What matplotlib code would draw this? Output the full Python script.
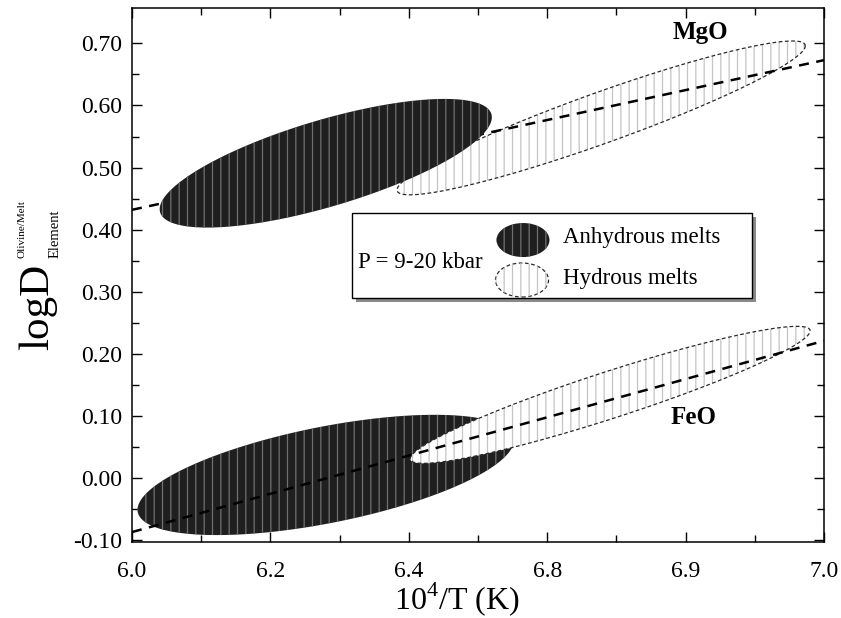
import numpy as np
import matplotlib
matplotlib.use("Agg")
import matplotlib.pyplot as plt
from matplotlib.patches import Ellipse, Rectangle

plt.rcParams['font.family'] = ['Liberation Serif', 'DejaVu Serif']
plt.rcParams['mathtext.fontset'] = 'custom'
plt.rcParams['mathtext.rm'] = 'Liberation Serif'
plt.rcParams['hatch.linewidth'] = 0.9

# axis ticks (labels copied as printed on the original)
x_ticks = [6.0, 6.2, 6.4, 6.6, 6.8, 7.0]
x_tick_labels = ['6.0', '6.2', '6.4', '6.8', '6.9', '7.0']
y_ticks = [-0.10, 0.00, 0.10, 0.20, 0.30, 0.40, 0.50, 0.60, 0.70]

# error regions: centre, right-most point and vertical half-thickness at centre
region_names = ['MgO anhydrous', 'MgO hydrous', 'FeO anhydrous', 'FeO hydrous']
region_hydrous = [False, True, False, True]
center_x = [6.280, 6.678, 6.280, 6.691]
center_y = [0.507, 0.580, 0.005, 0.134]
tip_x = [6.520, 6.973, 6.552, 6.980]
tip_y = [0.581, 0.696, 0.061, 0.237]
half_height = [0.0725, 0.0435, 0.079, 0.0395]

# fitted trends
line_x = [6.0, 7.0]
mgo_line_y = [0.432, 0.673]
feo_line_y = [-0.087, 0.221]

dark = '#1f1f1f'
dark_hatch = '#707070'
light_hatch = '#c4c4c4'

fig = plt.figure(figsize=(8.41, 6.18), dpi=100)
ax = fig.add_axes([132/841, 1 - 542/618, 692/841, 534/618])

# MgO: hydrous under anhydrous, FeO: anhydrous under hydrous
zorders = [4, 2, 2, 3]
t = np.linspace(0, 2*np.pi, 300)
for i in range(len(region_names)):
    ux = tip_x[i] - center_x[i]
    uy = tip_y[i] - center_y[i]
    xs = center_x[i] + ux*np.cos(t)
    ys = center_y[i] + uy*np.cos(t) + half_height[i]*np.sin(t)
    z = zorders[i]
    if region_hydrous[i]:
        ax.fill(xs, ys, facecolor='white', edgecolor='none', zorder=z)
        ax.fill(xs, ys, facecolor='none', edgecolor=light_hatch, lw=0, hatch='||', zorder=z)
        ax.plot(xs, ys, color='#2a2a2a', lw=0.9, ls=(0, (3, 2)), zorder=z)
    else:
        ax.fill(xs, ys, facecolor=dark, edgecolor='none', zorder=z)
        ax.fill(xs, ys, facecolor='none', edgecolor=dark_hatch, lw=0, hatch='||', zorder=z)

# MgO trend passes under the anhydrous field, FeO trend over everything
ax.plot(line_x, mgo_line_y, color='black', lw=1.8, dashes=(4, 3), zorder=3)
ax.plot(line_x, feo_line_y, color='black', lw=1.8, dashes=(4, 3), zorder=5)

ax.text(6.822, 0.717, 'MgO', fontsize=18, fontweight='bold', ha='center', va='center')
ax.text(6.812, 0.098, 'FeO', fontsize=18, fontweight='bold', ha='center', va='center')

# legend box drawn by hand
ax.add_patch(Rectangle((0.324, 0.449), 0.578, 0.159, transform=ax.transAxes,
                       facecolor='#8a8a8a', edgecolor='none', zorder=8))
ax.add_patch(Rectangle((0.318, 0.457), 0.578, 0.159, transform=ax.transAxes,
                       facecolor='white', edgecolor='black', lw=1.0, zorder=9))
ax.text(0.326, 0.5225, 'P = 9-20 kbar', transform=ax.transAxes, fontsize=16.5,
        ha='left', va='center', zorder=10)
e1 = Ellipse((0.565, 0.5655), 0.0766, 0.0637, transform=ax.transAxes,
             facecolor=dark, edgecolor='none', zorder=10)
e1h = Ellipse((0.565, 0.5655), 0.0766, 0.0637, transform=ax.transAxes,
              facecolor='none', edgecolor=dark_hatch, lw=0, hatch='||', zorder=10)
e2 = Ellipse((0.5636, 0.4906), 0.0766, 0.0637, transform=ax.transAxes,
             facecolor='white', edgecolor='#2a2a2a', lw=0.9, ls=(0, (3, 2)), zorder=10)
e2h = Ellipse((0.5636, 0.4906), 0.0766, 0.0637, transform=ax.transAxes,
              facecolor='none', edgecolor=light_hatch, lw=0, hatch='||', zorder=10)
for p in (e1, e1h, e2, e2h):
    ax.add_patch(p)
ax.text(0.623, 0.571, 'Anhydrous melts', transform=ax.transAxes, fontsize=16.5,
        ha='left', va='center', zorder=10)
ax.text(0.623, 0.494, 'Hydrous melts', transform=ax.transAxes, fontsize=16.5,
        ha='left', va='center', zorder=10)

ax.set_xlim(6.0, 7.0)
ax.set_ylim(-0.103, 0.757)
ax.set_xticks(x_ticks)
ax.set_xticklabels(x_tick_labels)
ax.set_xticks([6.1, 6.3, 6.5, 6.7, 6.9], minor=True)
ax.set_yticks(y_ticks)
ax.set_yticklabels(['%.2f' % v for v in y_ticks])
ax.set_yticks([v + 0.05 for v in y_ticks[:-1]], minor=True)
ax.tick_params(which='both', direction='in', top=True, right=True, width=1)
ax.tick_params(which='major', length=7, labelsize=17)
ax.tick_params(which='minor', length=5)
ax.tick_params(axis='x', pad=14)
ax.tick_params(axis='y', pad=7)
for s in ax.spines.values():
    s.set_linewidth(1.1)

ax.set_xlabel(r'10$^{\mathrm{4}}$/T (K)', fontsize=23)
ax.xaxis.set_label_coords(0.47, -0.072)

# y label built from pieces: logD with stacked super/subscript
fig.text(38/841, 1 - 350/618, 'logD', rotation=90, fontsize=31, ha='center', va='bottom')
fig.text(22/841, 1 - 258/618, 'Olivine/Melt', rotation=90, fontsize=8, ha='center', va='bottom')
fig.text(55/841, 1 - 258/618, 'Element', rotation=90, fontsize=10.5, ha='center', va='bottom')

fig.savefig('out.png', dpi=100)
